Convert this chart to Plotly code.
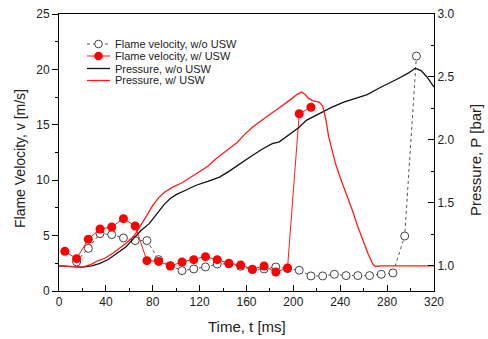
import plotly.graph_objects as go

# Flame velocity (m/s)
t_v_wo = [15, 25, 35, 45, 55, 65, 75, 85, 95, 105, 115, 125, 135, 145, 155, 165, 175, 185,
          195, 205, 215, 225, 235, 245, 255, 265, 275, 285, 295, 305]
v_wo = [2.62, 3.85, 5.18, 5.09, 4.79, 4.55, 4.55, 2.83, 2.29, 1.84, 1.99, 2.17, 2.44, 2.45,
        2.23, 1.93, 1.99, 2.17, 2.02, 1.87, 1.36, 1.36, 1.51, 1.39, 1.39, 1.39, 1.51, 1.63,
        4.96, 21.2]

t_v_w = [5, 15, 25, 35, 45, 55, 65, 75, 85, 95, 105, 115, 125, 135, 145, 155, 165, 175,
         185, 195, 205, 215]
v_w = [3.58, 2.92, 4.67, 5.6, 5.78, 6.53, 5.87, 2.74, 2.67, 2.26, 2.62, 2.83, 3.1, 2.83,
       2.5, 2.35, 1.96, 2.26, 1.71, 2.08, 16.0, 16.58]

# Pressure (bar)
t_p_wo = [0, 10, 20, 28, 35, 42, 50, 57, 63, 70, 77, 84, 90, 95, 100, 108, 117, 127, 137,
          145, 154, 164, 174, 182, 188, 196, 205, 211, 222, 233, 243, 253, 263, 273, 282,
          290, 298, 304, 309, 314, 320]
p_wo = [1.00, 0.995, 0.99, 1.00, 1.02, 1.05, 1.10, 1.15, 1.21, 1.28, 1.335, 1.42, 1.49,
        1.535, 1.565, 1.60, 1.64, 1.67, 1.705, 1.75, 1.81, 1.87, 1.93, 1.97, 1.985, 2.04,
        2.10, 2.155, 2.21, 2.26, 2.30, 2.33, 2.36, 2.41, 2.45, 2.49, 2.53, 2.57, 2.55,
        2.50, 2.42]

t_p_w = [0, 10, 20, 27, 33, 39, 46, 53, 60, 65, 70, 75, 80, 85, 90, 97, 105, 112, 120,
         127, 134, 140, 145, 152, 158, 165, 172, 178, 185, 192, 199, 203, 207, 210, 213,
         217, 222, 225, 228, 230, 233, 236, 240, 245, 250, 255, 260, 264, 268, 270, 275,
         285, 300, 320]
p_w = [1.00, 0.995, 0.99, 1.01, 1.04, 1.06, 1.10, 1.15, 1.20, 1.25, 1.32, 1.40, 1.48,
       1.54, 1.585, 1.625, 1.66, 1.70, 1.745, 1.79, 1.85, 1.89, 1.93, 1.98, 2.04, 2.10,
       2.15, 2.19, 2.235, 2.28, 2.33, 2.36, 2.38, 2.36, 2.33, 2.31, 2.30, 2.27, 2.15,
       2.03, 1.92, 1.81, 1.70, 1.58, 1.45, 1.31, 1.18, 1.09, 1.01, 0.995, 1.0, 1.0, 1.005,
       1.0]

legend_labels = ["Flame velocity, w/o USW", "Flame velocity, w/ USW",
                 "Pressure, w/o USW", "Pressure, w/ USW"]
x_title = "Time, t [ms]"
y_title = "Flame Velocity, v [m/s]"
y2_title = "Pressure, P [bar]"

FONT = "Liberation Sans, Arial, sans-serif"
W, H = 488, 339
ML, MR, MT, MB = 59, 54, 14, 48
PW, PH = W - ML - MR, H - MT - MB

RED = "#ff1a1a"
BLACK = "#111111"
GREY = "#444444"
TXT = "#222222"


def px(xp):
    return (xp - ML) / PW


def py(yp):
    return (H - MB - yp) / PH


fig = go.Figure()

fig.add_trace(go.Scatter(x=t_p_wo, y=p_wo, yaxis="y2", mode="lines",
                         name=legend_labels[2], line=dict(color=BLACK, width=1.3)))
fig.add_trace(go.Scatter(x=t_p_w, y=p_w, yaxis="y2", mode="lines",
                         name=legend_labels[3], line=dict(color=RED, width=1.3)))
fig.add_trace(go.Scatter(x=t_v_wo, y=v_wo, mode="lines+markers",
                         name=legend_labels[0],
                         line=dict(color="#555555", width=1, dash="dot"),
                         marker=dict(symbol="circle", size=8, color="white",
                                     line=dict(color=GREY, width=1))))
fig.add_trace(go.Scatter(x=t_v_w, y=v_w, mode="lines+markers",
                         name=legend_labels[1],
                         line=dict(color=RED, width=1),
                         marker=dict(symbol="circle", size=9, color="#ff0000",
                                     line=dict(width=0))))

# compact legend (layout decorations)
rows_y = [44, 56, 68.5, 80.5]
x0, x1, xm, xt = 87, 110, 98.5, 113
styles = [dict(color="#555555", width=1, dash="dot"),
          dict(color=RED, width=1),
          dict(color=BLACK, width=1.3),
          dict(color=RED, width=1.3)]
shapes = []
annotations = []
for i, (lab, yy) in enumerate(zip(legend_labels, rows_y)):
    shapes.append(dict(type="line", xref="paper", yref="paper",
                       x0=px(x0), x1=px(x1), y0=py(yy), y1=py(yy), line=styles[i]))
    annotations.append(dict(text=lab, xref="paper", yref="paper", x=px(xt), y=py(yy),
                            xanchor="left", yanchor="middle", showarrow=False,
                            font=dict(size=11, color=TXT)))
r_open, r_fill = 3.8, 4.3
shapes.append(dict(type="circle", xref="paper", yref="paper",
                   x0=px(xm - r_open), x1=px(xm + r_open),
                   y0=py(rows_y[0] + r_open), y1=py(rows_y[0] - r_open),
                   fillcolor="white", line=dict(color=GREY, width=1)))
shapes.append(dict(type="circle", xref="paper", yref="paper",
                   x0=px(xm - r_fill), x1=px(xm + r_fill),
                   y0=py(rows_y[1] + r_fill), y1=py(rows_y[1] - r_fill),
                   fillcolor="#ff0000", line=dict(color="#ff0000", width=0)))

# axis titles
annotations.append(dict(text=x_title, xref="paper", yref="paper", x=px(247), y=py(326),
                        xanchor="center", yanchor="middle", showarrow=False,
                        font=dict(size=15, color=TXT)))
annotations.append(dict(text=y_title, xref="paper", yref="paper", x=px(20), y=py(159),
                        xanchor="center", yanchor="middle", showarrow=False, textangle=-90,
                        font=dict(size=14, color=TXT)))
annotations.append(dict(text=y2_title, xref="paper", yref="paper", x=px(476), y=py(160),
                        xanchor="center", yanchor="middle", showarrow=False, textangle=-90,
                        font=dict(size=15, color=TXT)))

fig.update_layout(
    width=W, height=H,
    margin=dict(l=ML, r=MR, t=MT, b=MB, autoexpand=False),
    paper_bgcolor="white", plot_bgcolor="white",
    font=dict(family=FONT, size=12, color=TXT),
    showlegend=False,
    shapes=shapes, annotations=annotations,
    xaxis=dict(range=[0, 320], dtick=40, tick0=0, showgrid=False, zeroline=False,
               showline=True, linecolor="black", linewidth=1, mirror=True,
               ticks="inside", ticklen=6, tickcolor="black", automargin=False,
               minor=dict(dtick=20, ticks="inside", ticklen=3, tickcolor="black")),
    yaxis=dict(range=[0, 25], dtick=5, tick0=0, showgrid=False, zeroline=False,
               showline=True, linecolor="black", linewidth=1, automargin=False,
               ticks="outside", ticklen=6, tickcolor="black",
               minor=dict(dtick=2.5, ticks="outside", ticklen=3, tickcolor="black")),
    yaxis2=dict(range=[0.8, 3.0], dtick=0.5, tick0=0, overlaying="y", side="right",
                showgrid=False, zeroline=False, tickformat=".1f", automargin=False,
                showline=True, linecolor="black", linewidth=1,
                ticks="inside", ticklen=6, tickcolor="black",
                minor=dict(dtick=0.25, ticks="inside", ticklen=3, tickcolor="black")),
)

fig.write_html("out.html")
